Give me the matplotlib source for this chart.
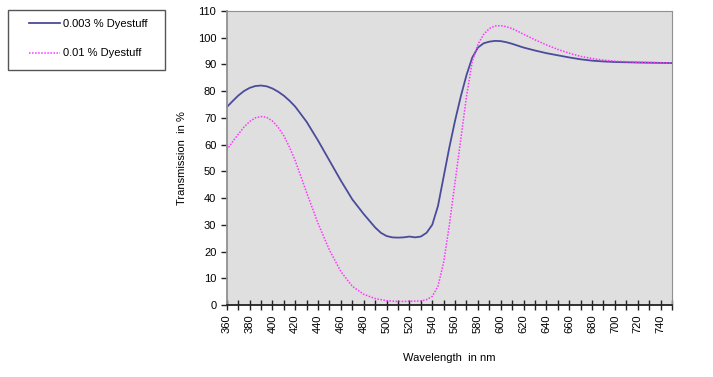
import matplotlib.pyplot as plt
from matplotlib.patches import Rectangle
from matplotlib.ticker import MultipleLocator

plt.rcParams['font.family'] = ['Liberation Sans', 'DejaVu Sans']

# wavelength (nm) and transmission (%)
wl_low = [360, 365, 370, 375, 380, 385, 390, 395, 400, 405, 410, 415, 420, 430,
          440, 450, 460, 470, 480, 490, 495, 500, 505, 510, 515, 520, 525, 530,
          535, 540, 545, 550, 555, 560, 565, 570, 575, 580, 585, 590, 595, 600,
          605, 610, 620, 630, 640, 650, 660, 670, 680, 690, 700, 720, 750]
t_low = [74, 76.2, 78.3, 80, 81.2, 81.9, 82.1, 81.8, 81, 79.8, 78.3, 76.4, 74.2, 68.5,
         61.5, 54, 46.5, 39.5, 34, 29, 27, 25.8, 25.3, 25.2, 25.3, 25.6, 25.3, 25.6,
         27, 30, 37, 48, 59, 69, 78, 86, 92.5, 96.3, 97.9, 98.5, 98.8, 98.7,
         98.3, 97.7, 96.3, 95.2, 94.2, 93.4, 92.6, 91.9, 91.4, 91.1, 90.9, 90.7, 90.5]

wl_high = [360, 365, 370, 375, 380, 385, 390, 395, 400, 405, 410, 415, 420, 430,
           440, 450, 460, 470, 480, 490, 500, 510, 520, 530, 535, 540, 545, 550,
           555, 560, 565, 570, 575, 580, 585, 590, 595, 600, 605, 610, 620, 630,
           640, 650, 660, 670, 680, 690, 700, 720, 750]
t_high = [58, 61, 63.8, 66.5, 68.6, 70, 70.5, 70.2, 68.8, 66.5, 63.3, 59, 54, 42,
          30.5, 20.5, 12.5, 7, 4, 2.4, 1.6, 1.3, 1.4, 1.5, 2, 3.2, 7, 16,
          30, 46, 62, 78, 91, 97.5, 101.2, 103.4, 104.4, 104.5, 104.1, 103.4, 101.3, 99.2,
          97.3, 95.6, 94.2, 93, 92.2, 91.6, 91.2, 90.8, 90.5]

fig = plt.figure(figsize=(7.13, 3.77), dpi=100)
ax = fig.add_axes([0.318, 0.191, 0.6245, 0.78])
ax.set_facecolor('#dfdfdf')

ax.plot(wl_low, t_low, color='#4b4b9c', lw=1.3, label='0.003 % Dyestuff')
ax.plot(wl_high, t_high, color='#ff33ff', lw=1.1, ls=(0, (1, 1)), label='0.01 % Dyestuff')

ax.set_xlim(360, 750)
ax.set_ylim(0, 110)
ax.xaxis.set_major_locator(MultipleLocator(20))
ax.xaxis.set_minor_locator(MultipleLocator(10))
ax.yaxis.set_major_locator(MultipleLocator(10))
ax.tick_params(axis='x', which='both', direction='inout', length=7, width=1,
               labelrotation=90, labelsize=8, color='#222222')
ax.tick_params(axis='y', which='major', direction='out', length=4, width=1,
               labelsize=8, color='#222222')

for side in ['top', 'right', 'left']:
    ax.spines[side].set_color('#909090')
ax.spines['left'].set_linewidth(1.3)
ax.spines['bottom'].set_color('#222222')
ax.spines['bottom'].set_linewidth(1.3)

ax.set_xlabel('Wavelength  in nm', fontsize=8, labelpad=14)
ax.set_ylabel('Transmission  in %', fontsize=8, labelpad=8)

# legend box sits outside the plot, top left of the figure
fig.patches.append(Rectangle((8 / 713, 1 - 70 / 377), 157 / 713, 60 / 377,
                             transform=fig.transFigure, fill=False,
                             edgecolor='#555555', lw=1.0))
fig.legend(loc='upper left', bbox_to_anchor=(29 / 713, 1 - 19 / 377), fontsize=8,
           frameon=False, handlelength=2.8, labelspacing=1.75,
           handletextpad=0.3, borderpad=0, borderaxespad=0)

fig.savefig('out.png', dpi=100)
